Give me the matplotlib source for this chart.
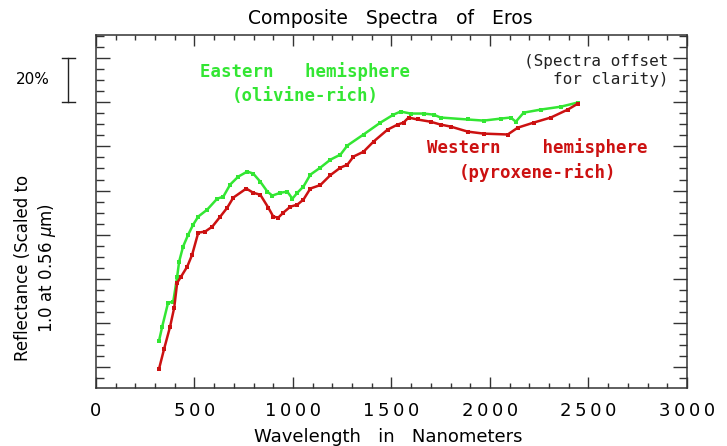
import numpy as np
import matplotlib.pyplot as plt
from matplotlib.ticker import MultipleLocator, FuncFormatter

# Western hemisphere (pyroxene-rich), wavelength in nm
west_nm = [320, 346, 376, 397, 412, 432, 463, 488, 519, 554, 590, 631, 666, 697,
           763, 798, 834, 875, 900, 925, 951, 987, 1022, 1053, 1088, 1139, 1190,
           1241, 1276, 1307, 1358, 1409, 1480, 1531, 1561, 1587, 1632, 1698, 1749,
           1800, 1887, 1968, 2090, 2141, 2222, 2309, 2395, 2446]
west_refl = [0.392, 0.483, 0.583, 0.669, 0.782, 0.810, 0.855, 0.909, 1.009, 1.014,
             1.036, 1.082, 1.122, 1.168, 1.209, 1.190, 1.181, 1.122, 1.082, 1.077,
             1.100, 1.127, 1.136, 1.159, 1.209, 1.225, 1.270, 1.304, 1.317, 1.354,
             1.376, 1.422, 1.476, 1.499, 1.508, 1.531, 1.522, 1.512, 1.499, 1.490,
             1.467, 1.458, 1.454, 1.485, 1.508, 1.531, 1.567, 1.594]

# Eastern hemisphere (olivine-rich)
east_nm = [320, 336, 366, 392, 412, 422, 442, 468, 493, 519, 564, 615, 646, 681,
           722, 768, 798, 834, 870, 895, 936, 971, 997, 1022, 1053, 1088, 1139,
           1190, 1241, 1276, 1358, 1444, 1510, 1546, 1597, 1663, 1714, 1749, 1887,
           1968, 2054, 2105, 2131, 2171, 2258, 2359, 2446]
east_refl = [0.519, 0.583, 0.692, 0.696, 0.810, 0.878, 0.946, 1.000, 1.045, 1.082,
             1.113, 1.163, 1.172, 1.227, 1.263, 1.286, 1.277, 1.240, 1.195, 1.177,
             1.190, 1.195, 1.163, 1.190, 1.218, 1.272, 1.304, 1.340, 1.363, 1.404,
             1.454, 1.508, 1.544, 1.558, 1.549, 1.549, 1.544, 1.531, 1.522, 1.517,
             1.526, 1.531, 1.512, 1.553, 1.567, 1.580, 1.599]

red = '#cc1111'
green = '#33e633'

fig = plt.figure(figsize=(7.27, 4.46), dpi=100)
ax = fig.add_axes([96 / 727, 1 - 388 / 446, 591 / 727, 353 / 446])

ax.plot(east_nm, east_refl, color=green, lw=1.8, marker='s', ms=2.2, mew=0)
ax.plot(west_nm, west_refl, color=red, lw=1.8, marker='s', ms=2.2, mew=0)

ax.set_xlim(0, 3000)
ax.set_ylim(0.305, 1.905)
ax.xaxis.set_major_locator(MultipleLocator(500))
ax.xaxis.set_minor_locator(MultipleLocator(100))
ax.xaxis.set_major_formatter(FuncFormatter(lambda v, p: '\u2009'.join(str(int(v)))))
ax.yaxis.set_major_locator(MultipleLocator(0.2))
ax.yaxis.set_minor_locator(MultipleLocator(0.05))
ax.set_yticklabels([])
ax.tick_params(axis='both', which='both', direction='in', color='#333333',
               top=True, right=True)
ax.tick_params(axis='x', which='major', length=8, width=1, pad=10, labelsize=13)
ax.tick_params(axis='x', which='minor', length=3.8, width=1)
ax.tick_params(axis='y', which='major', length=10, width=1)
ax.tick_params(axis='y', which='minor', length=5.8, width=1)
for s in ax.spines.values():
    s.set_color('#333333')
    s.set_linewidth(1.1)

fig.text(390 / 727, 1 - 18 / 446, 'Composite   Spectra   of   Eros',
         ha='center', va='center', fontsize=13.5)
fig.text(388 / 727, 1 - 437 / 446, 'Wavelength   in   Nanometers',
         ha='center', va='center', fontsize=13)
fig.text(36 / 727, 1 - 268 / 446, 'Reflectance (Scaled to\n1.0 at 0.56 $\\mu$m)',
         ha='center', va='center', rotation=90, fontsize=12,
         multialignment='center', linespacing=1.3)

# 20% scale bar
ytr = ax.get_yaxis_transform()
ax.plot([-0.047, -0.047], [1.6, 1.8], color='#222222', lw=1,
        transform=ytr, clip_on=False)
for yv in (1.6, 1.8):
    ax.plot([-0.058, -0.036], [yv, yv], color='#222222', lw=1,
            transform=ytr, clip_on=False)
fig.text(33 / 727, 1 - 79 / 446, '20%', ha='center', va='center', fontsize=11)

mono = dict(family='DejaVu Sans Mono', fontweight='bold', fontsize=12.5,
            ha='center', va='center', linespacing=1.4)
ax.text(1060, 1.685, 'Eastern   hemisphere\n(olivine-rich)', color=green, **mono)
ax.text(2240, 1.34, 'Western    hemisphere\n(pyroxene-rich)', color=red, **mono)
ax.text(2905, 1.745, '(Spectra offset\nfor clarity)', ha='right', va='center',
        family='DejaVu Sans Mono', fontsize=11.5, linespacing=1.25, color='#222222')

fig.savefig('out.png', dpi=100)
